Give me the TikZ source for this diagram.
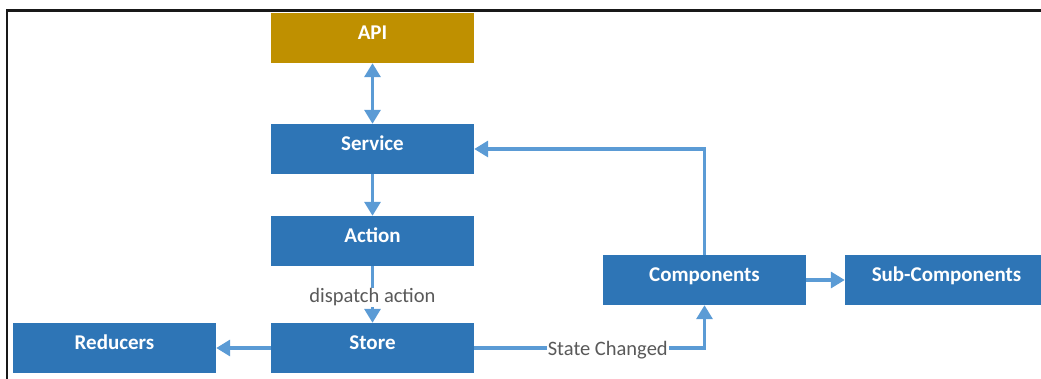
\documentclass[tikz,border=0pt]{standalone}
\usepackage{fontspec}
\setmainfont{Carlito}
\usetikzlibrary{arrows.meta}
\definecolor{boxblue}{HTML}{2E75B6}
\definecolor{apigold}{HTML}{BF9000}
\definecolor{linkblue}{HTML}{5B9BD5}
\definecolor{labelgray}{HTML}{595959}
\begin{document}
\begin{tikzpicture}[x=1pt,y=-1pt,
  tip/.tip={Triangle[length=14pt,width=16pt]},
  block/.style={fill=boxblue, draw=none, minimum width=203pt, minimum height=50pt,
    inner sep=0pt, text height=14pt, text depth=11.5pt, text=white,
    font=\fontsize{21}{24}\selectfont\bfseries},
  link/.style={draw=linkblue, line width=3.3pt, -tip},
  tag/.style={fill=white, inner sep=1pt, text=labelgray, font=\fontsize{20.5}{24}\selectfont}]
\useasboundingbox (0,0) rectangle (1041,379);
% frame lines along the top and left edges
\draw[line width=2.2pt, black!90] (7,379) -- (7,10.5) -- (1041,10.5);

% boxes
\node[block, fill=apigold] (api) at (372.5,38) {API};
\node[block] (service) at (372.5,149) {Service};
\node[block] (action) at (372.5,241) {Action};
\node[block] (store) at (372.5,348) {Store};
\node[block] (reducers) at (114.5,348) {Reducers};
\node[block] (comp) at (704.5,280) {Components};
\begin{scope}
  \clip (0,0) rectangle (1041,379);
  \node[block] (sub) at (946.5,280) {Sub-Components};
\end{scope}

% connectors
\draw[link, tip-tip] (api) -- (service);
\draw[link] (service) -- (action);
\draw[link] (action) -- node[tag, yshift=-3pt] {dispatch action} (store);
\draw[link] (store) -- (reducers);
\coordinate (turn) at (store.east -| comp);
\draw[link] (store.east) -- node[tag, pos=0.58, yshift=-2.5pt] {State Changed} (turn) -- (comp.south);
\coordinate (top) at (service.east -| comp);
\draw[link] (comp.north) -- (top) -- (service.east);
\draw[link] (comp) -- (sub);
\end{tikzpicture}
\end{document}
